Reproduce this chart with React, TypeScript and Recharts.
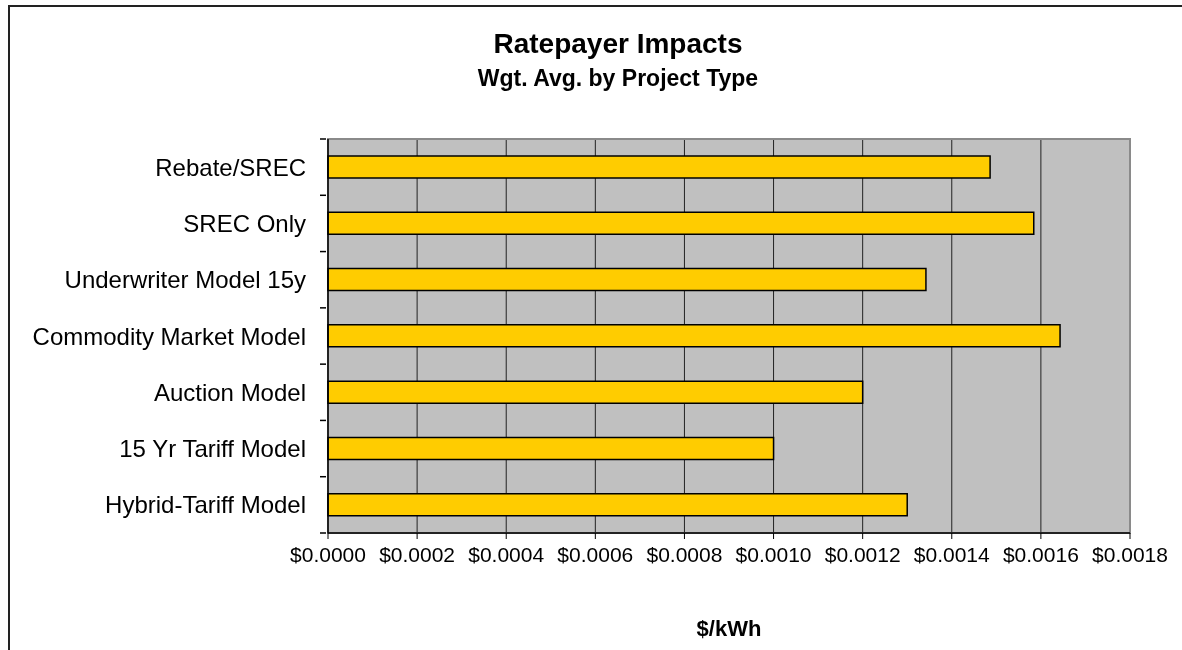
import { BarChart, Bar, XAxis, YAxis, CartesianGrid, ReferenceArea } from "recharts";

// project types, top to bottom
const projectTypes = [
  "Rebate/SREC",
  "SREC Only",
  "Underwriter Model 15y",
  "Commodity Market Model",
  "Auction Model",
  "15 Yr Tariff Model",
  "Hybrid-Tariff Model",
];

// weighted average ratepayer impact, $/kWh
const impacts = [0.001486, 0.001584, 0.001342, 0.001643, 0.0012, 0.001, 0.0013];

const xTicks = [0, 0.0002, 0.0004, 0.0006, 0.0008, 0.001, 0.0012, 0.0014, 0.0016, 0.0018];

const data = projectTypes.map((name, i) => ({ name, impact: impacts[i] }));

const font = "'Liberation Sans', Arial, sans-serif";

// category label plus the short tick marks on the row boundaries
const CategoryTick = (props: any) => {
  const { x, y, payload, index } = props;
  const half = payload?.offset ?? 0;
  const last = index === projectTypes.length - 1;
  return (
    <g>
      <text
        x={x - 20}
        y={y}
        dy="0.355em"
        textAnchor="end"
        fontSize={24}
        fontFamily={font}
        fill="#000"
      >
        {payload.value}
      </text>
      <line x1={x - 6} x2={x} y1={y - half} y2={y - half} stroke="#000" strokeWidth={1.5} />
      {last && (
        <line x1={x - 6} x2={x} y1={y + half} y2={y + half} stroke="#000" strokeWidth={1.5} />
      )}
    </g>
  );
};

const App = () => {
  return (
    <div style={{ position: "relative", width: 1166, height: 642, fontFamily: font }}>
      {/* outer chart frame */}
      <div
        style={{
          position: "fixed",
          left: 8,
          top: 5,
          width: 1300,
          height: 800,
          border: "2px solid #222",
          boxSizing: "border-box",
          pointerEvents: "none",
        }}
      />
      <div
        style={{
          position: "absolute",
          left: 0,
          width: 1220,
          top: 20,
          textAlign: "center",
          fontWeight: "bold",
          fontSize: 28,
          lineHeight: "32px",
        }}
      >
        Ratepayer Impacts
      </div>
      <div
        style={{
          position: "absolute",
          left: 0,
          width: 1220,
          top: 57,
          textAlign: "center",
          fontWeight: "bold",
          fontSize: 23,
          lineHeight: "26px",
        }}
      >
        Wgt. Avg. by Project Type
      </div>
      <div style={{ position: "absolute", left: 0, top: 0 }}>
        <BarChart
          width={1174}
          height={642}
          data={data}
          layout="vertical"
          margin={{ top: 131, right: 52, bottom: 57, left: 0 }}
        >
          <CartesianGrid horizontal={false} stroke="#222" fill="#C0C0C0" fillOpacity={1} />
          <ReferenceArea x1={0} x2={0.0018} fill="none" stroke="#8a8a8a" strokeWidth={2} />
          <XAxis
            type="number"
            domain={[0, 0.0018]}
            ticks={xTicks}
            tickFormatter={(v: number) => `$${v.toFixed(4)}`}
            tick={{ fontSize: 21, fill: "#000", fontFamily: font }}
            tickSize={6}
            tickMargin={8}
            tickLine={{ stroke: "#000" }}
            axisLine={{ stroke: "#000", strokeWidth: 1.5 }}
            height={60}
            interval={0}
          />
          <YAxis
            type="category"
            dataKey="name"
            width={320}
            tick={<CategoryTick />}
            tickSize={0}
            tickLine={false}
            axisLine={{ stroke: "#000", strokeWidth: 1.5 }}
            interval={0}
          />
          <Bar
            dataKey="impact"
            fill="#FFCC00"
            stroke="#000"
            strokeWidth={1.5}
            barSize={22}
            isAnimationActive={false}
          />
        </BarChart>
      </div>
      <div
        style={{
          position: "absolute",
          left: 320,
          width: 802,
          top: 608,
          textAlign: "center",
          fontWeight: "bold",
          fontSize: 22,
          lineHeight: "26px",
        }}
      >
        $/kWh
      </div>
    </div>
  );
};

export default App;
